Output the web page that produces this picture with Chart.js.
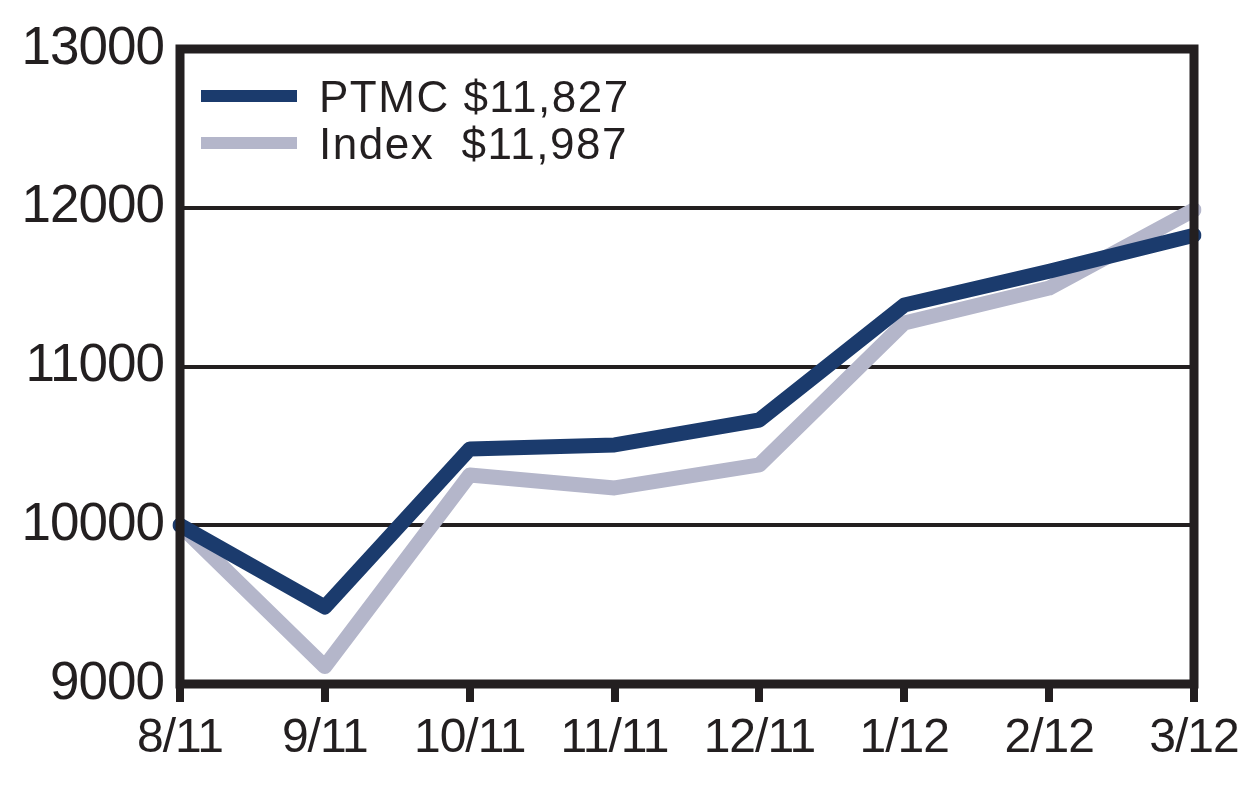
<!DOCTYPE html>
<html>
<head>
<meta charset="utf-8">
<script src="https://cdn.jsdelivr.net/npm/chart.js@4"></script>
<style>
  html, body { margin: 0; padding: 0; background: #fff; }
  #wrap { width: 1256px; height: 809px; }
</style>
</head>
<body>
<div id="wrap"><canvas id="growthChart"></canvas></div>
<script>
// Chart values
const months = ['8/11', '9/11', '10/11', '11/11', '12/11', '1/12', '2/12', '3/12'];
const ptmcValues = [10000, 9485, 10480, 10506, 10663, 11387, 11600, 11827];
const indexValues = [10000, 9110, 10317, 10235, 10380, 11274, 11494, 11987];
const seriesNames = ['PTMC', 'Index'];
const legendText = ['PTMC $11,827', 'Index  $11,987'];
const yMin = 9000;
const yMax = 13000;
const yStep = 1000;

const ink = '#231f20';
const navy = '#1b3b6d';
const grey = '#b4b6ca';
const fontFamily = '"Liberation Sans", Arial, sans-serif';

// Thick box round the plot area
const framePlugin = {
    id: 'frame',
    afterDatasetsDraw(chart) {
        const ctx = chart.ctx;
        const a = chart.chartArea;
        ctx.save();
        ctx.strokeStyle = ink;
        ctx.lineWidth = 9;
        ctx.strokeRect(a.left, a.top, a.right - a.left, a.bottom - a.top);
        ctx.restore();
    }
};

// Legend drawn inside the plot, top left
const insideLegend = {
    id: 'insideLegend',
    afterDraw(chart) {
        const ctx = chart.ctx;
        const a = chart.chartArea;
        ctx.save();
        ctx.font = '44px ' + fontFamily;
        ctx.letterSpacing = '1.5px';
        ctx.fillStyle = ink;
        ctx.textBaseline = 'alphabetic';
        chart.data.datasets.forEach((ds, i) => {
            const y = a.top + 47 + i * 47;
            ctx.strokeStyle = ds.borderColor;
            ctx.lineWidth = 12;
            ctx.lineCap = 'butt';
            ctx.beginPath();
            ctx.moveTo(a.left + 21, y);
            ctx.lineTo(a.left + 117, y);
            ctx.stroke();
            ctx.fillText(legendText[i], a.left + 139, y + 16);
        });
        ctx.restore();
    }
};

// Tick text is set a little tighter, like the condensed face of the original
const tracking = {
    id: 'tracking',
    beforeDraw(chart) { chart.ctx.letterSpacing = '-1px'; },
    afterDraw(chart) { chart.ctx.letterSpacing = '0px'; }
};

function createGrowthChart() {
    const el = document.getElementById('growthChart');

    let data = {
        labels: months,
        datasets: [{
            label: seriesNames[0],
            data: ptmcValues,
            borderColor: navy,
            backgroundColor: navy,
            borderWidth: 15
        }, {
            label: seriesNames[1],
            data: indexValues,
            borderColor: grey,
            backgroundColor: grey,
            borderWidth: 15
        }]
    };

    let config = {
        type: 'line',
        data: data,
        options: {
            responsive: true,
            maintainAspectRatio: false,
            animation: false,
            layout: { padding: { left: 0, top: 49, right: 62, bottom: 0 } },
            elements: {
                point: { radius: 0, hoverRadius: 0 },
                line: { tension: 0, borderJoinStyle: 'round', borderCapStyle: 'round' }
            },
            plugins: {
                legend: { display: false },
                tooltip: { enabled: false }
            },
            scales: {
                x: {
                    offset: false,
                    afterFit(scale) { scale.height = 125; },
                    grid: {
                        drawOnChartArea: false,
                        drawTicks: true,
                        tickLength: 18,
                        lineWidth: 8,
                        color: ink
                    },
                    border: { display: false },
                    ticks: {
                        color: ink,
                        padding: 8,
                        maxRotation: 0,
                        autoSkip: false,
                        font: { family: fontFamily, size: 48 }
                    }
                },
                y: {
                    min: yMin,
                    max: yMax,
                    afterFit(scale) { scale.width = 180; },
                    grid: {
                        drawTicks: false,
                        lineWidth: 4,
                        color: ink
                    },
                    border: { display: false },
                    ticks: {
                        stepSize: yStep,
                        color: ink,
                        padding: 16,
                        font: { family: fontFamily, size: 53 },
                        callback: (v) => String(v)
                    }
                }
            }
        },
        plugins: [tracking, framePlugin, insideLegend]
    };

    let chartObj = new Chart(el, config);
}

createGrowthChart();
</script>
</body>
</html>
